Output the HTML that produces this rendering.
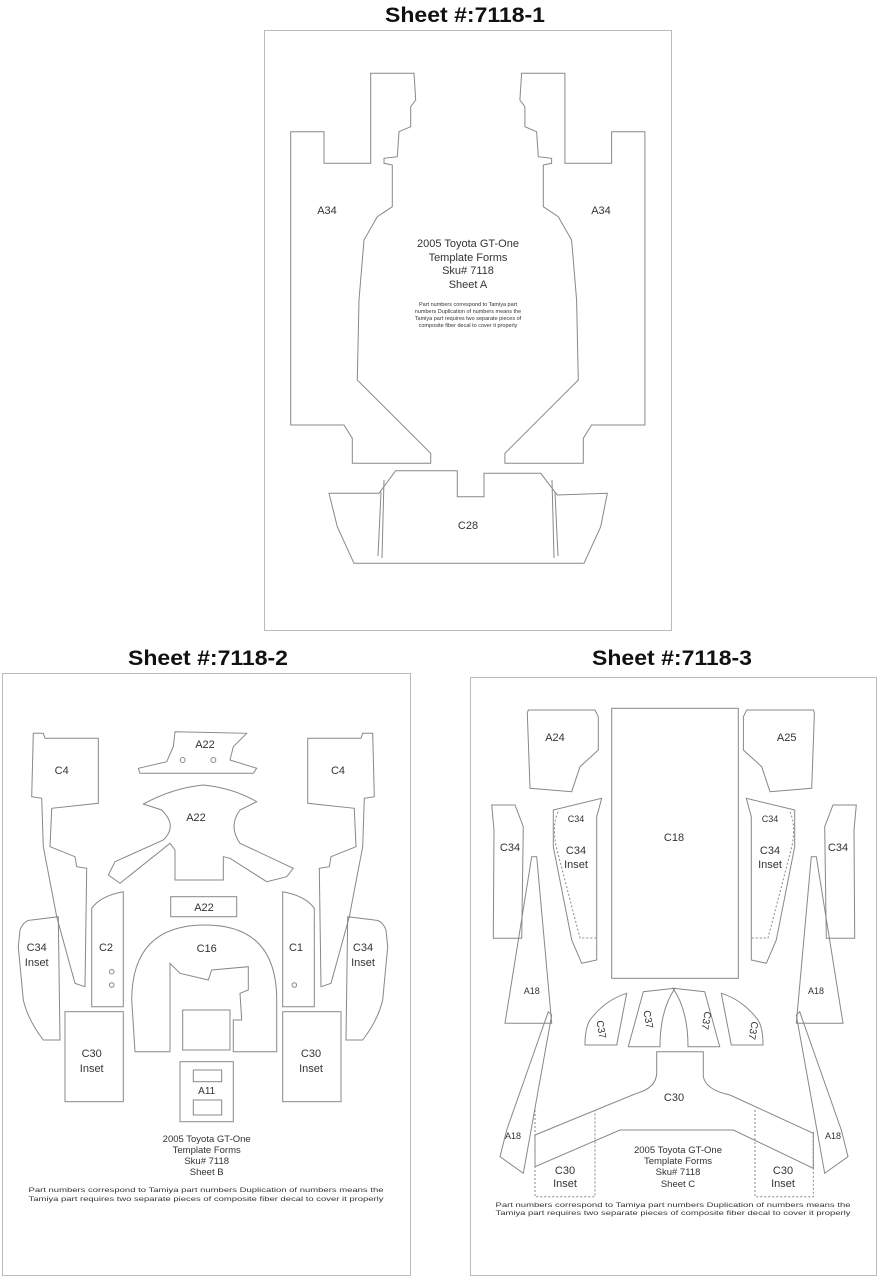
<!DOCTYPE html>
<html><head><meta charset="utf-8"><style>
html,body{margin:0;padding:0;background:#fff;}
svg{display:block;}
text{font-family:"Liberation Sans",Arial,sans-serif;fill:#333;}
.t{font-weight:bold;font-size:21px;fill:#111;}
.l{font-size:11px;}
.s{font-size:5.5px;fill:#222;}
</style></head><body>
<svg width="878" height="1280" viewBox="0 0 878 1280" xmlns="http://www.w3.org/2000/svg">
<g fill="none" stroke="#888" stroke-width="1">
<rect x="264.5" y="30.5" width="407" height="600" stroke="#bbb"/>
<rect x="2.5" y="673.5" width="408" height="602" stroke="#bbb"/>
<rect x="470.5" y="677.5" width="406" height="598" stroke="#bbb"/>

<path d="M290.7,131.7 L324,131.7 L324,163.3 L370.7,163.3 L370.7,73.3 L414,73.3 L415.7,100 L410.7,106.7 L410.7,126.7 L399,131.7 L397.3,156.7 L384,158.3 L384,163.3 L392.3,165 L392.3,206.7 L377.3,216.7 L364,240 L359,300 L357.3,380 L430.7,453.3 L430.7,463.3 L352.3,463.3 L352.3,438.3 L344,425 L290.7,425 Z"/>
<g transform="translate(935.6,0) scale(-1,1)">
<path d="M290.7,131.7 L324,131.7 L324,163.3 L370.7,163.3 L370.7,73.3 L414,73.3 L415.7,100 L410.7,106.7 L410.7,126.7 L399,131.7 L397.3,156.7 L384,158.3 L384,163.3 L392.3,165 L392.3,206.7 L377.3,216.7 L364,240 L359,300 L357.3,380 L430.7,453.3 L430.7,463.3 L352.3,463.3 L352.3,438.3 L344,425 L290.7,425 Z"/>
</g>
<path d="M329,493.3 L379,493.3 L395.7,470.7 L457.3,470.7 L457.3,496.7 L484,496.7 L484,473.3 L540.7,473.3 L557.3,495 L607.3,493.3 L600.7,526.7 L584,563.3 L354,563.3 L337.3,526.7 Z"/>
<path d="M381,492 L378,556"/><path d="M384,480 L382,558"/>
<path d="M555,492 L558,556"/><path d="M552,480 L554,558"/>

<path d="M33.3,733.3 L43.3,733.3 L45,738.3 L98.3,738.3 L98.3,803.3 L51.7,808.3 L50,846.7 L75,856.7 L76.7,866.7 L86.7,868.3 L85,986.7 L75,983.3 L56.7,916.7 L43.3,846.7 L41.7,798.3 L31.7,796.7 Z"/>
<g transform="translate(406,0) scale(-1,1)">
<path d="M33.3,733.3 L43.3,733.3 L45,738.3 L98.3,738.3 L98.3,803.3 L51.7,808.3 L50,846.7 L75,856.7 L76.7,866.7 L86.7,868.3 L85,986.7 L75,983.3 L56.7,916.7 L43.3,846.7 L41.7,798.3 L31.7,796.7 Z"/>
</g>
<path d="M175,731.7 L246.7,733.3 L233.3,746.7 L230,760 L256.7,768.3 L253.3,773.3 L140,773.3 L138.3,768.3 L166.7,761.7 L173.3,746.7 Z"/>
<circle cx="182.7" cy="760" r="2.5"/><circle cx="213.3" cy="760" r="2.5"/>
<path d="M143.3,804 Q173,788 203.3,785 Q233,788 256.7,801.7 L240,810 Q228,826 240,843.3 L293.3,868.3 L286.7,876.7 L266.7,881.7 L230,858.3 L223.3,856.7 L223.3,880 L175,880 L175,850 L170,843.3 L120,883.3 L108.3,875 L115,861.7 L163.3,840 Q178,826 161.7,810 Z"/>
<rect x="170.7" y="896.7" width="66" height="20"/>
<path d="M135,1051.7 L131.7,1000 Q132,925 205,925 Q276.7,925 276.7,1000 L276.7,1051.7 L233.3,1051.7 L233.3,1020 L241.7,1020 L240,993.3 L248.3,990 L248.3,966.7 L211.7,970 L208.3,980 L180,973.3 L170,963.3 L170,1051.7 Z"/>
<rect x="182.7" y="1010" width="47.3" height="40"/>
<rect x="180" y="1061.7" width="53.3" height="60"/>
<rect x="193.3" y="1070" width="28.4" height="11.7"/>
<rect x="193.3" y="1100" width="28.4" height="15"/>
<path d="M91.7,908.3 Q100,896 123.3,891.7 L123.3,1006.7 L91.7,1006.7 Z"/>
<circle cx="111.7" cy="971.7" r="2.3"/><circle cx="111.7" cy="985" r="2.3"/>
<g transform="translate(406,0) scale(-1,1)">
<path d="M91.7,908.3 Q100,896 123.3,891.7 L123.3,1006.7 L91.7,1006.7 Z"/>
<circle cx="111.7" cy="985" r="2.3"/>
</g>
<path d="M20,930 Q24,920 31.7,920 L58.3,916.7 L60,1040 L43.3,1040 Q28,1020 23.3,1000 L18.3,946.7 Z"/>
<g transform="translate(406,0) scale(-1,1)">
<path d="M20,930 Q24,920 31.7,920 L58.3,916.7 L60,1040 L43.3,1040 Q28,1020 23.3,1000 L18.3,946.7 Z"/>
</g>
<rect x="65" y="1011.7" width="58.3" height="90"/>
<rect x="282.7" y="1011.7" width="58.3" height="90"/>

<path d="M528.3,710 L595,710 L598.3,716.7 L598.3,750 L580,766.7 L571.7,791.7 L530,788.3 L527.3,713 Z"/>
<g transform="translate(1341.7,0) scale(-1,1)">
<path d="M528.3,710 L595,710 L598.3,716.7 L598.3,750 L580,766.7 L571.7,791.7 L530,788.3 L527.3,713 Z"/>
</g>
<rect x="611.7" y="708.3" width="126.6" height="270"/>
<g>
<path d="M491.7,805 L515,805 L523.3,826.7 L521.7,938.3 L493.3,938.3 L494,830 Z"/>
<path d="M553.3,810 L601.7,798.3 L596.7,816.7 L596.7,960 L581.7,963.3 L571.7,940 L553.3,846.7 Z"/>
<path d="M558,812 Q552,825 556,846 L580,938 L596,938" stroke-dasharray="2,2"/>
<path d="M531.7,856.7 L536.7,856.7 L551.7,1023.3 L505,1023.3 Z"/>
<path d="M548.3,1011.7 L551.7,1015 L523.3,1173.3 L500,1156.7 L506.7,1130 Z"/>
<path d="M585,1045 Q585,1028 590,1020 Q605,1000 626.7,993.3 L616.7,1045 Z"/>
<path d="M628.3,1046.7 L643.3,991.7 L675,988.3 Q660,1010 660,1046.7 Z"/>
</g>
<g transform="translate(1348,0) scale(-1,1)">
<path d="M491.7,805 L515,805 L523.3,826.7 L521.7,938.3 L493.3,938.3 L494,830 Z"/>
<path d="M553.3,810 L601.7,798.3 L596.7,816.7 L596.7,960 L581.7,963.3 L571.7,940 L553.3,846.7 Z"/>
<path d="M558,812 Q552,825 556,846 L580,938 L596,938" stroke-dasharray="2,2"/>
<path d="M531.7,856.7 L536.7,856.7 L551.7,1023.3 L505,1023.3 Z"/>
<path d="M548.3,1011.7 L551.7,1015 L523.3,1173.3 L500,1156.7 L506.7,1130 Z"/>
<path d="M585,1045 Q585,1028 590,1020 Q605,1000 626.7,993.3 L616.7,1045 Z"/>
<path d="M628.3,1046.7 L643.3,991.7 L675,988.3 Q660,1010 660,1046.7 Z"/>
</g>
<path d="M656.7,1051.7 L703.3,1051.7 L703.3,1076.7 Q706,1090 730,1095 L813.3,1133.3 L813.3,1168.3 L733.3,1130 L620,1130 L535,1166.7 L535,1135 L636.7,1093.3 Q656,1088 656.7,1073.3 Z"/>
<path d="M535,1110 L535,1196.7 L595,1196.7 L595,1110 M755,1110 L755,1196.7 L813.3,1196.7 L813.3,1130" stroke-dasharray="2,2"/>
</g>

<text class="t" x="465" y="22" text-anchor="middle" textLength="160" lengthAdjust="spacingAndGlyphs">Sheet #:7118-1</text>
<text class="t" x="208" y="665" text-anchor="middle" textLength="160" lengthAdjust="spacingAndGlyphs">Sheet #:7118-2</text>
<text class="t" x="672" y="665" text-anchor="middle" textLength="160" lengthAdjust="spacingAndGlyphs">Sheet #:7118-3</text>

<text class="l" x="327" y="214" text-anchor="middle">A34</text>
<text class="l" x="601" y="214" text-anchor="middle">A34</text>
<g class="l" text-anchor="middle">
<text x="468" y="247">2005 Toyota GT-One</text>
<text x="468" y="261">Template Forms</text>
<text x="468" y="274">Sku# 7118</text>
<text x="468" y="288">Sheet A</text>
</g>
<g class="s" text-anchor="middle">
<text x="468" y="306">Part numbers correspond to Tamiya part</text>
<text x="468" y="313">numbers Duplication of numbers means the</text>
<text x="468" y="320">Tamiya part requires two separate pieces of</text>
<text x="468" y="327">composite fiber decal to cover it properly</text>
</g>
<text class="l" x="468" y="529" text-anchor="middle">C28</text>

<g class="l" text-anchor="middle">
<text x="61.7" y="774">C4</text><text x="338" y="774">C4</text>
<text x="205" y="748">A22</text><text x="196" y="821">A22</text><text x="204" y="911">A22</text>
<text x="106" y="951">C2</text><text x="296" y="951">C1</text>
<text x="36.7" y="951">C34</text><text x="36.7" y="966">Inset</text>
<text x="363" y="951">C34</text><text x="363" y="966">Inset</text>
<text x="206.7" y="952">C16</text>
<text x="91.7" y="1057">C30</text><text x="91.7" y="1072">Inset</text>
<text x="311" y="1057">C30</text><text x="311" y="1072">Inset</text>
<text x="206.7" y="1094" style="font-size:10px">A11</text>
</g>
<g text-anchor="middle" style="font-size:9.5px">
<text x="206.7" y="1142">2005 Toyota GT-One</text>
<text x="206.7" y="1153">Template Forms</text>
<text x="206.7" y="1164">Sku# 7118</text>
<text x="206.7" y="1175">Sheet B</text>
</g>
<g class="s" text-anchor="middle" style="font-size:6px">
<text x="206" y="1192" textLength="355" lengthAdjust="spacingAndGlyphs">Part numbers correspond to Tamiya part numbers Duplication of numbers means the</text>
<text x="206" y="1201" textLength="355" lengthAdjust="spacingAndGlyphs">Tamiya part requires two separate pieces of composite fiber decal to cover it properly</text>
</g>

<g class="l" text-anchor="middle">
<text x="555" y="741">A24</text><text x="786.7" y="741">A25</text>
<text x="674" y="841">C18</text>
<text x="510" y="851">C34</text><text x="838" y="851">C34</text>
<text x="576" y="854">C34</text><text x="576" y="868">Inset</text>
<text x="770" y="854">C34</text><text x="770" y="868">Inset</text>
<text x="576" y="822" style="font-size:9px">C34</text><text x="770" y="822" style="font-size:9px">C34</text>
<text x="531.7" y="994" style="font-size:9px">A18</text><text x="816" y="994" style="font-size:9px">A18</text>
<text x="513" y="1139" style="font-size:9px">A18</text><text x="833" y="1139" style="font-size:9px">A18</text>
<text x="674" y="1101">C30</text>
<text x="565" y="1174">C30</text><text x="565" y="1187">Inset</text>
<text x="783" y="1174">C30</text><text x="783" y="1187">Inset</text>
</g>
<g class="l" style="font-size:10px">
<text transform="translate(598,1030) rotate(80)" text-anchor="middle">C37</text>
<text transform="translate(645,1020) rotate(80)" text-anchor="middle">C37</text>
<text transform="translate(703,1020) rotate(100)" text-anchor="middle">C37</text>
<text transform="translate(750,1030) rotate(100)" text-anchor="middle">C37</text>
</g>
<g text-anchor="middle" style="font-size:9.5px">
<text x="678" y="1153">2005 Toyota GT-One</text>
<text x="678" y="1164">Template Forms</text>
<text x="678" y="1175">Sku# 7118</text>
<text x="678" y="1187">Sheet C</text>
</g>
<g class="s" text-anchor="middle" style="font-size:6px">
<text x="673" y="1207" textLength="355" lengthAdjust="spacingAndGlyphs">Part numbers correspond to Tamiya part numbers Duplication of numbers means the</text>
<text x="673" y="1215" textLength="355" lengthAdjust="spacingAndGlyphs">Tamiya part requires two separate pieces of composite fiber decal to cover it properly</text>
</g>
</svg>
</body></html>
